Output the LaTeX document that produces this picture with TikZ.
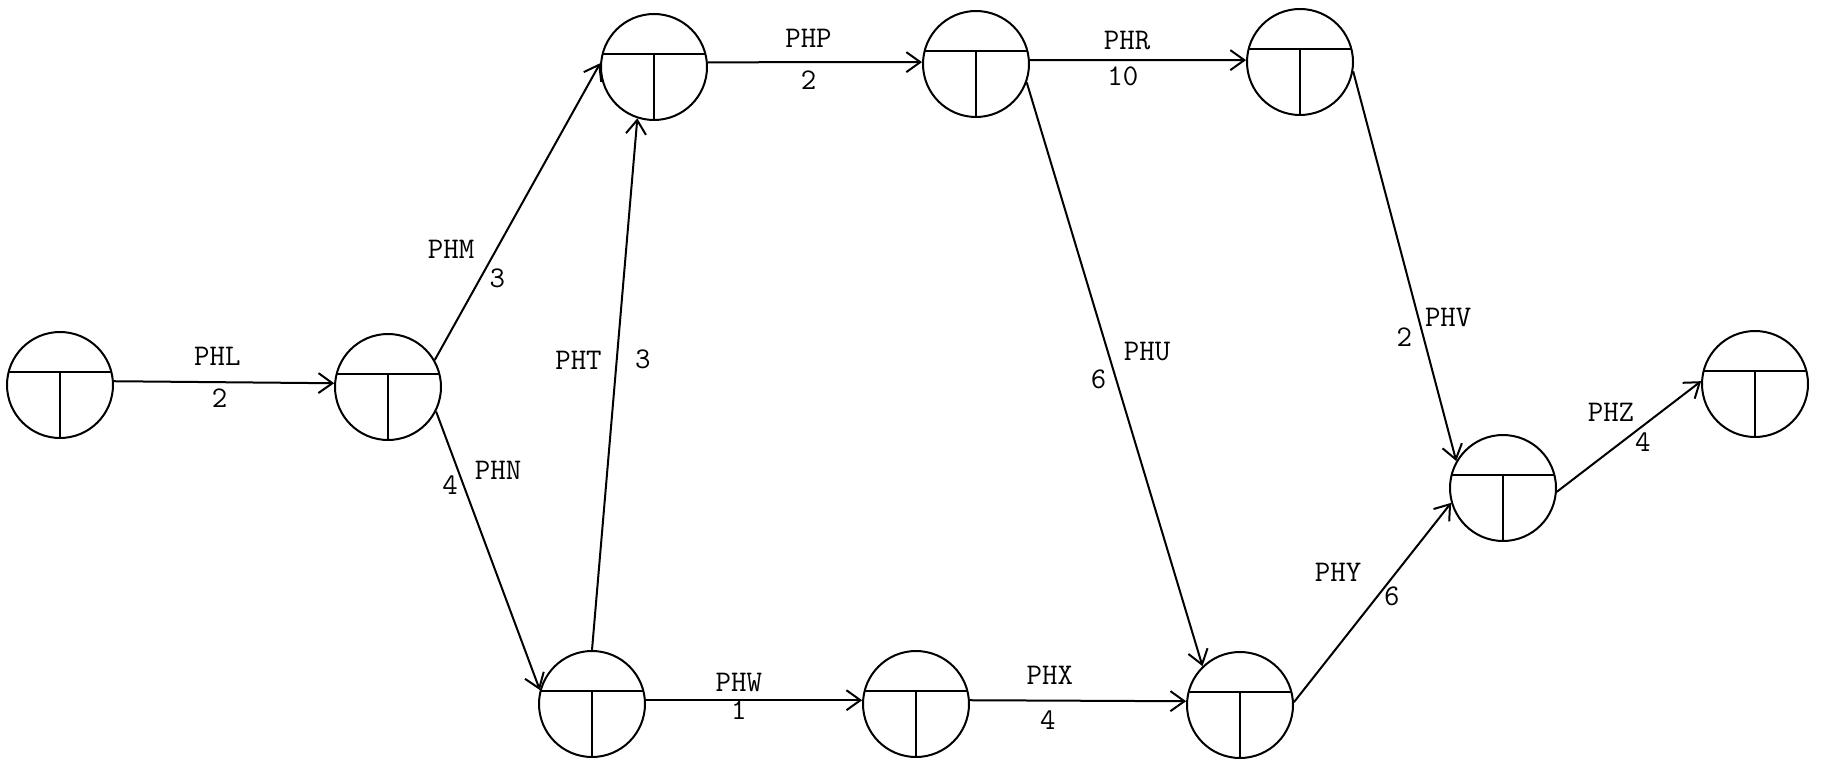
\documentclass[tikz,border=0pt]{standalone}
\usepackage{tikz}
\usetikzlibrary{arrows.meta}

\begin{document}
\begin{tikzpicture}[
        x=1pt, y=-1pt,
        every node/.style={font=\fontsize{30}{36}\selectfont\ttfamily},
        event/.style={circle, draw, line width=2pt, minimum size=106pt, inner sep=0pt,
          path picture={
            \draw[line width=2pt] ([yshift=13pt]path picture bounding box.west) -- ([yshift=13pt]path picture bounding box.east);
            \draw[line width=2pt] ([yshift=13pt]path picture bounding box.center) -- (path picture bounding box.south);
          }},
        lbl/.style={inner sep=0pt},
        arr/.style={-{Straight Barb[length=14pt,width=20pt]}, line width=2pt}
      ]
        \useasboundingbox (0,0) rectangle (1821,762);
        \node[event] (ev1)  at (60,385)   {};
        \node[event] (ev2)  at (388,387)  {};
        \node[event] (ev3)  at (654,67)   {};
        \node[event] (ev4)  at (976,64)   {};
        \node[event] (ev5)  at (1300,62)  {};
        \node[event] (ev6)  at (592,704)  {};
        \node[event] (ev7)  at (916,704)  {};
        \node[event] (ev8)  at (1240,705) {};
        \node[event] (ev9)  at (1503,488) {};
        \node[event] (ev10) at (1755,384) {};
        \draw[arr] (ev1.4)   -- node[lbl, pos=0.47, yshift=26pt]{PHL} node[lbl, pos=0.48, yshift=-16pt]{2} (ev2.176);
        \draw[arr] (ev2.30)  -- node[lbl, pos=0.31, xshift=-35pt, yshift=19pt]{PHM} node[lbl, pos=0.30, xshift=13pt, yshift=-7pt]{3} (ev3.176);
        \draw[arr] (ev2.-27) -- node[lbl, pos=0.26, xshift=35pt, yshift=14pt]{PHN} node[lbl, pos=0.25, xshift=-12pt, yshift=-4pt]{4} (ev6.165);
        \draw[arr] (ev6.north) -- node[lbl, pos=0.54, xshift=-38pt, yshift=3pt]{PHT} node[lbl, pos=0.55, xshift=26pt, yshift=-2pt]{3} (ev3.-108);
        \draw[arr] (ev3.5)   -- node[lbl, pos=0.47, yshift=24pt]{PHP} node[lbl, pos=0.47, yshift=-18pt]{2} (ev4.178);
        \draw[arr] (ev4.4)   -- node[lbl, pos=0.45, yshift=20pt]{PHR} node[lbl, pos=0.43, yshift=-16pt]{10} (ev5.178);
        \draw[arr] (ev4.-20) -- node[lbl, pos=0.48, xshift=36pt, yshift=11pt]{PHU} node[lbl, pos=0.50, xshift=-16pt, yshift=-5pt]{6} (ev8.134);
        \draw[arr] (ev5.-10) -- node[lbl, pos=0.65, xshift=28pt, yshift=7pt]{PHV} node[lbl, pos=0.67, xshift=-18pt, yshift=-5pt]{2} (ev9.150);
        \draw[arr] (ev6.4)   -- node[lbl, pos=0.43, yshift=18pt]{PHW} node[lbl, pos=0.43, yshift=-10pt]{1} (ev7.176);
        \draw[arr] (ev7.4)   -- node[lbl, pos=0.37, yshift=25pt]{PHX} node[lbl, pos=0.36, yshift=-20pt]{4} (ev8.176);
        \draw[arr] (ev8.3)   -- node[lbl, pos=0.51, xshift=-36pt, yshift=28pt]{PHY} node[lbl, pos=0.56, xshift=10pt, yshift=-6pt]{6} (ev9.196);
        \draw[arr] (ev9.-4)  -- node[lbl, pos=0.50, xshift=-18pt, yshift=24pt]{PHZ} node[lbl, pos=0.54, xshift=8pt, yshift=-10pt]{4} (ev10.177);
      \end{tikzpicture}
\end{document}
